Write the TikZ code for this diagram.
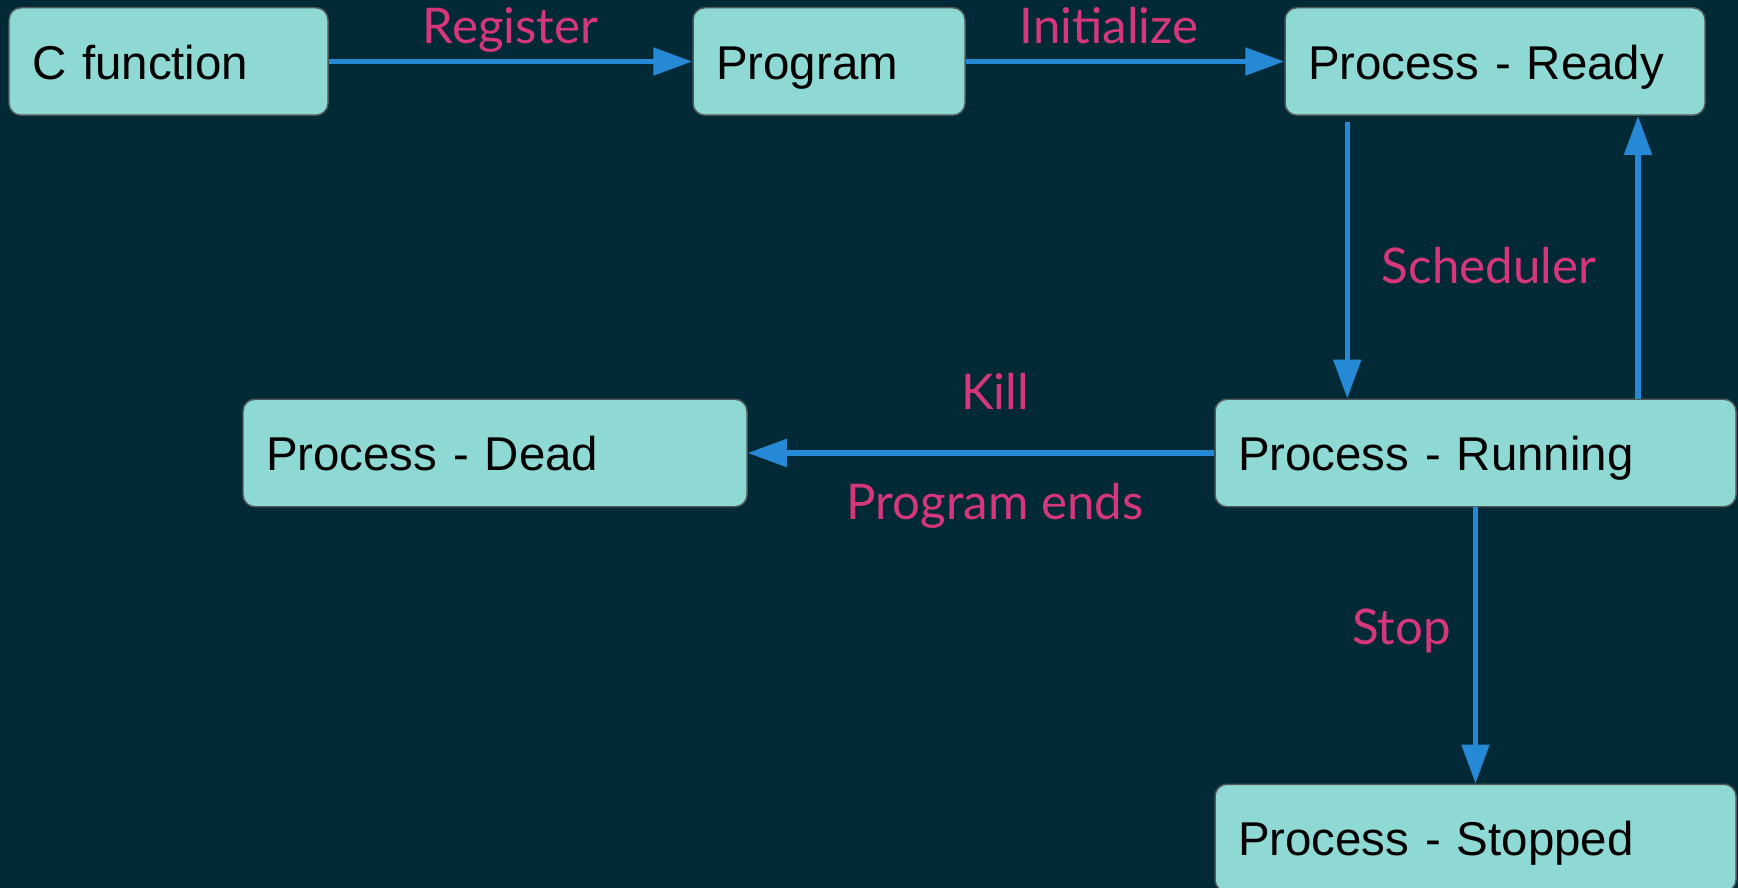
\documentclass[tikz,border=0pt]{standalone}
\usepackage{fontspec}
\setmainfont{Liberation Sans}
\newfontfamily\labelfont{Lato}
\usetikzlibrary{arrows.meta,positioning}
\definecolor{bg}{HTML}{012A36}
\definecolor{boxfill}{HTML}{8ED9D3}
\definecolor{boxline}{HTML}{505858}
\definecolor{flowblue}{HTML}{2589D6}
\definecolor{pink}{HTML}{D6367A}
\tikzset{
  state/.style={
    draw=boxline, fill=boxfill, rounded corners=0.24cm, line width=0.85pt,
    inner xsep=0.46cm, inner ysep=0pt, minimum height=2.15cm,
    execute at begin node={\rule[-6pt]{0pt}{32pt}},
    align=left, font=\fontsize{27}{32}\selectfont, text=black
  },
  flow/.style={-{Triangle[length=0.78cm, width=0.54cm]}, line width=3pt, draw=flowblue},
  tag/.style={
    inner sep=0pt, text height=0.75em, text depth=0.25em,
    font=\labelfont\fontsize{28}{32}\selectfont, text=pink
  }
}

\begin{document}
\begin{tikzpicture}
  \fill[bg] (0,0) rectangle (34.76,-17.76);
  \useasboundingbox (0,0) rectangle (34.76,-17.76);
  \clip (0,0) rectangle (34.76,-17.76);
  % states
  \node[state, text width=5.46cm] (cfunc) at (3.37,-1.23) {C function};
  \node[state, text width=4.52cm] (prog) at (16.58,-1.23) {Program};
  \node[state, text width=7.48cm] (ready) at (29.90,-1.23) {Process - Ready};
  \node[state, text width=9.16cm] (dead) at (9.90,-9.06) {Process - Dead};
  \node[state, text width=9.50cm] (running) at (29.51,-9.06) {Process - Running};
  \node[state, text width=9.50cm] (stopped) at (29.51,-16.76) {Process - Stopped};
  % transitions
  \draw[flow] (cfunc.east) -- node[tag, pos=0.5, above=0.21cm] {Register} (prog.west);
  \draw[flow] (prog.east) -- node[tag, pos=0.45, above=0.21cm] {Initialize} (ready.west);
  \draw[flow] ([xshift=1.26cm,yshift=-0.12cm]ready.south west)
    -- node[tag, pos=0.567, right=0.64cm] {Scheduler} ([xshift=1.26cm]ready.south west |- running.north);
  \draw[flow] ([xshift=3.25cm]running.north) -- ([xshift=3.25cm]running.north |- ready.south);
  \draw[flow] (running.west) -- node[tag, pos=0.47, above=0.73cm] {Kill}
    node[tag, pos=0.47, below=1.02cm] {Program ends} (dead.east);
  \draw[flow] (running.south) -- node[tag, pos=0.48, left=0.44cm] {Stop} (stopped.north);
\end{tikzpicture}
\end{document}
